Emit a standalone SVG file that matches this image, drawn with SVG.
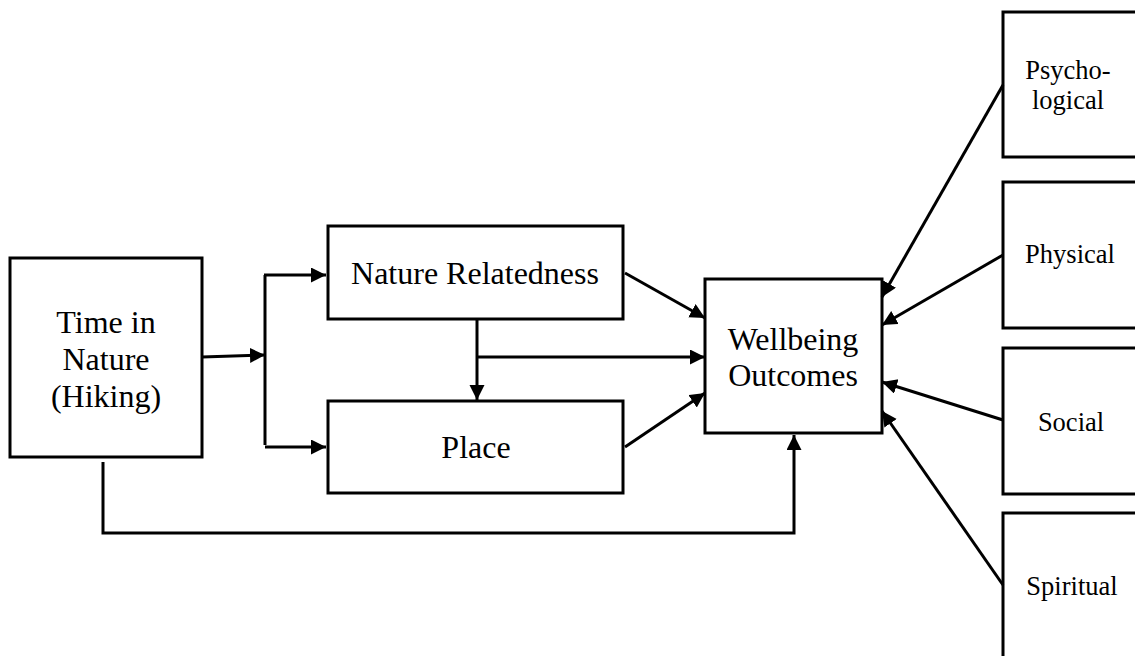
<svg xmlns="http://www.w3.org/2000/svg" width="1135" height="656" viewBox="0 0 1135 656">
<style>
.box{fill:#fff;stroke:#000;stroke-width:3}
.t{font-family:"Liberation Serif","Times New Roman",serif;font-size:32px;fill:#000;text-anchor:middle}
.s{font-family:"Liberation Serif","Times New Roman",serif;font-size:26.5px;fill:#000;text-anchor:middle}
.c{fill:none;stroke:#000;stroke-width:3}
</style>
<defs>
<marker id="ah" markerUnits="userSpaceOnUse" markerWidth="17" markerHeight="16" refX="15" refY="7.5" orient="auto">
<path d="M0,0 L15,7.5 L0,15 z" fill="#000"/>
</marker>
</defs>
<rect width="1135" height="656" fill="#fff"/>
<g id="time">
<rect class="box" x="10" y="258" width="192" height="199"/>
<text class="t" x="106" y="333">Time in</text>
<text class="t" x="106" y="370">Nature</text>
<text class="t" x="106" y="407">(Hiking)</text>
</g>
<g id="nature-relatedness">
<rect class="box" x="328" y="226" width="295" height="93"/>
<text class="t" x="475" y="284">Nature Relatedness</text>
</g>
<g id="place">
<rect class="box" x="328" y="401" width="295" height="92"/>
<text class="t" x="476" y="458">Place</text>
</g>
<g id="wellbeing">
<rect class="box" x="705" y="279" width="177" height="154"/>
<text class="t" x="793" y="350">Wellbeing</text>
<text class="t" x="793" y="386">Outcomes</text>
</g>
<g id="psychological">
<rect class="box" x="1003" y="12" width="140" height="145"/>
<text class="s" x="1068" y="79">Psycho-</text>
<text class="s" x="1068" y="109">logical</text>
</g>
<g id="physical">
<rect class="box" x="1003" y="182" width="140" height="146"/>
<text class="s" x="1070" y="263">Physical</text>
</g>
<g id="social">
<rect class="box" x="1003" y="348" width="140" height="146"/>
<text class="s" x="1071" y="431">Social</text>
</g>
<g id="spiritual">
<rect class="box" x="1003" y="513" width="140" height="160"/>
<text class="s" x="1072" y="595">Spiritual</text>
</g>
<g id="connectors">
<line class="c" x1="202" y1="357" x2="265" y2="355" marker-end="url(#ah)"/>
<line class="c" x1="265" y1="275" x2="265" y2="445"/>
<line class="c" x1="264" y1="275" x2="326" y2="275" marker-end="url(#ah)"/>
<line class="c" x1="265" y1="447" x2="326" y2="447" marker-end="url(#ah)"/>
<line class="c" x1="477" y1="319" x2="477" y2="400" marker-end="url(#ah)"/>
<line class="c" x1="477" y1="357" x2="705" y2="357" marker-end="url(#ah)"/>
<line class="c" x1="625" y1="273" x2="705" y2="318" marker-end="url(#ah)"/>
<line class="c" x1="625" y1="447" x2="705" y2="393" marker-end="url(#ah)"/>
<polyline class="c" points="103,462 103,533 794,533 794,435" marker-end="url(#ah)"/>
<line class="c" x1="1003" y1="85" x2="882" y2="297" marker-end="url(#ah)"/>
<line class="c" x1="1003" y1="255" x2="882" y2="325" marker-end="url(#ah)"/>
<line class="c" x1="1003" y1="420" x2="882" y2="382" marker-end="url(#ah)"/>
<line class="c" x1="1003" y1="585" x2="882" y2="411" marker-end="url(#ah)"/>
</g>
</svg>
